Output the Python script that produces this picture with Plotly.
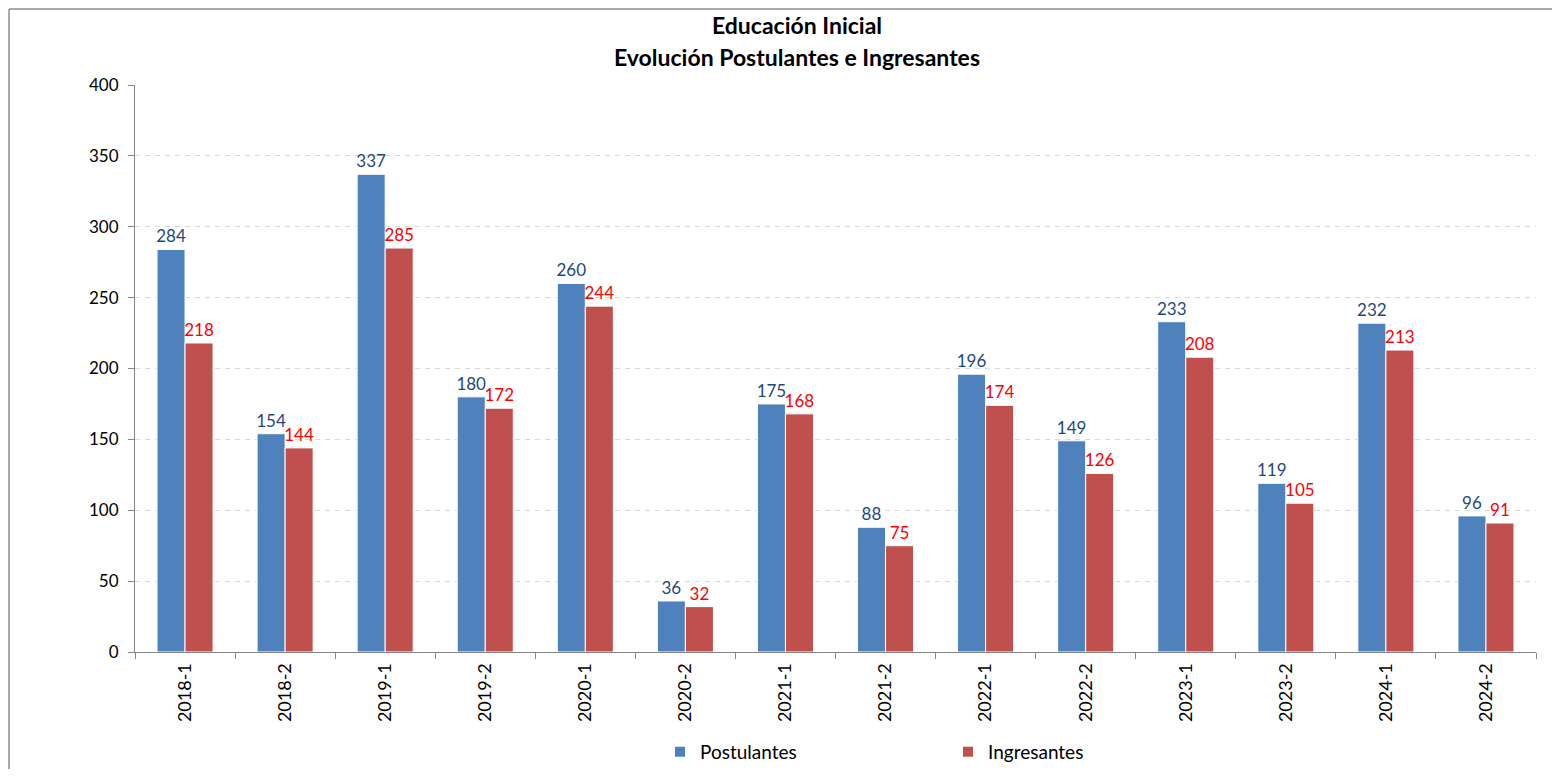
import plotly.graph_objects as go

categories = ["2018-1", "2018-2", "2019-1", "2019-2", "2020-1", "2020-2", "2021-1",
              "2021-2", "2022-1", "2022-2", "2023-1", "2023-2", "2024-1", "2024-2"]
postulantes = [284, 154, 337, 180, 260, 36, 175, 88, 196, 149, 233, 119, 232, 96]
ingresantes = [218, 144, 285, 172, 244, 32, 168, 75, 174, 126, 208, 105, 213, 91]
y_ticks = [0, 50, 100, 150, 200, 250, 300, 350, 400]
title_lines = ["Educación Inicial", "Evolución Postulantes e Ingresantes"]

FONT = "Lato"
OFF = 8  # page body margin in browser

fig = go.Figure()
fig.add_trace(go.Bar(
    x=categories, y=postulantes, name="Postulantes",
    marker=dict(color="#4F81BD", line=dict(color="white", width=1)),
    text=postulantes, textposition="outside", cliponaxis=False, constraintext="none",
    textfont=dict(color="#1F497D", size=17, family=FONT),
))
fig.add_trace(go.Bar(
    x=categories, y=ingresantes, name="Ingresantes",
    marker=dict(color="#C0504D", line=dict(color="white", width=1)),
    text=ingresantes, textposition="outside", cliponaxis=False, constraintext="none",
    textfont=dict(color="#FF0000", size=17, family=FONT),
))

# target pixel geometry (in screenshot coordinates)
PL, PR, PT, PB = 135, 1536, 85, 652
W, H = 1560 - 2 * OFF, 777 - 2 * OFF
L, T = PL - OFF, PT - OFF
R = W - (PR - OFF)
B = H - (PB - OFF)
pw, ph = PR - PL, PB - PT

def px_x(p):
    return (p - PL) / pw

def px_y(p):
    return (PB - p) / ph

annotations = []
for txt, ypix in zip(title_lines, [25, 57]):
    annotations.append(dict(
        text="<b>" + txt + "</b>", xref="paper", yref="paper",
        x=px_x(797), y=px_y(ypix), xanchor="center", yanchor="middle",
        showarrow=False, font=dict(family=FONT, size=23, color="black"),
    ))

frame = dict(color="#8C8C8C", width=1.5)
shapes = [
    dict(type="line", xref="paper", yref="paper",
         x0=px_x(9), x1=px_x(OFF + W), y0=px_y(9), y1=px_y(9), line=frame, layer="below"),
    dict(type="line", xref="paper", yref="paper",
         x0=px_x(9), x1=px_x(9), y0=px_y(9), y1=px_y(OFF + H), line=frame, layer="below"),
]

fig.update_layout(
    width=W, height=H,
    margin=dict(l=L, r=R, t=T, b=B, autoexpand=False),
    paper_bgcolor="white", plot_bgcolor="white",
    font=dict(family=FONT, size=17, color="black"),
    barmode="group", bargap=0.44, bargroupgap=0.0,
    annotations=annotations,
    shapes=shapes,
    xaxis=dict(
        type="category", showline=True, linecolor="#868686", linewidth=1,
        ticks="outside", ticklen=6, tickcolor="#868686", tickson="boundaries",
        tickangle=-90, tickfont=dict(size=18, family=FONT), ticklabelstandoff=3,
        showgrid=False, zeroline=False, automargin=False,
    ),
    yaxis=dict(
        range=[0, 400], tickvals=y_ticks, showline=True, linecolor="#868686",
        linewidth=1, ticks="outside", ticklen=6, tickcolor="#868686",
        showgrid=True, gridcolor="#D9D9D9", griddash="5px,5px", gridwidth=1,
        zeroline=False, tickfont=dict(size=17, family=FONT), ticklabelstandoff=6,
        automargin=False,
    ),
    legend=dict(
        orientation="h", x=px_x(660), xanchor="left", y=px_y(752), yanchor="middle",
        entrywidth=243, entrywidthmode="pixels",
        font=dict(size=19, family=FONT), itemsizing="constant",
    ),
)

fig.write_html("out.html")
